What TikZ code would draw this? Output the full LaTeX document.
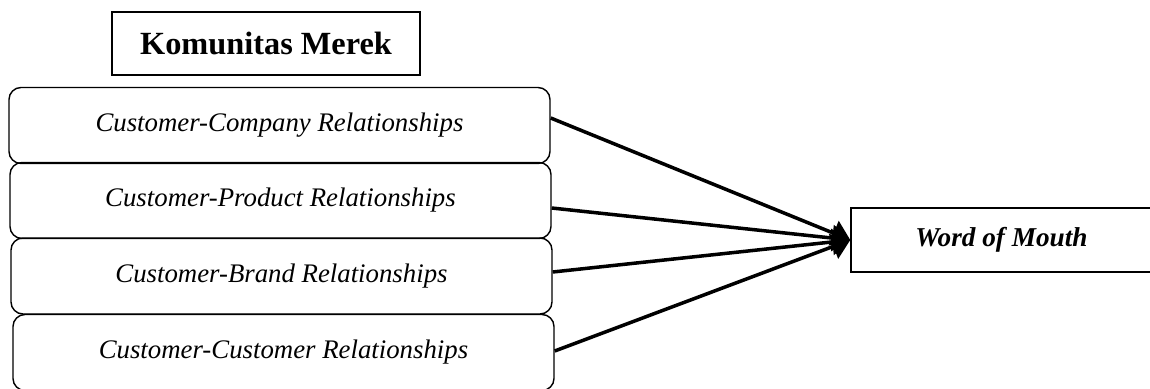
\documentclass[tikz,border=0pt]{standalone}
\usepackage{fontspec}
\setmainfont{Liberation Serif}
\usetikzlibrary{arrows.meta}

\tikzset{
    titlebox/.style={draw, line width=0.6pt, minimum width=6.16cm, minimum height=1.26cm,
        inner sep=0pt, font=\fontsize{18.4}{22}\selectfont\bfseries},
    relbox/.style={draw, line width=0.8pt, rounded corners=0.24cm, minimum width=10.82cm,
        minimum height=1.52cm, inner sep=0pt, font=\fontsize{15.25}{18}\selectfont\itshape},
    wombox/.style={draw, line width=0.8pt, minimum width=6.02cm, minimum height=1.28cm,
        inner sep=0pt, font=\fontsize{15.5}{18}\selectfont\bfseries\itshape},
    link/.style={line width=2pt, -{Triangle[length=0.36cm, width=0.52cm]}}
}

\begin{document}
\begin{tikzpicture}
    \useasboundingbox (0,0) rectangle (23,7.76);

    \node [titlebox] (title) at (5.32,6.89) {Komunitas Merek};

    % the four relationship boxes, stacked
    \node [relbox] (company) at (5.59,5.25) {Customer-Company Relationships};
    \node [relbox] (product) at (5.61,3.75) {Customer-Product Relationships};
    \node [relbox] (brand) at (5.63,2.24) {Customer-Brand Relationships};
    \node [relbox] (customer) at (5.67,0.71) {Customer-Customer Relationships};

    \node [wombox] (wom) at (20.03,2.96) {Word of Mouth};

    % arrows into Word of Mouth
    \draw [link] ([yshift=0.15cm]company.east) -- (wom.west);
    \draw [link] ([yshift=-0.15cm]product.east) -- (wom.west);
    \draw [link] ([yshift=0.08cm]brand.east) -- (wom.west);
    \draw [link] ([yshift=0.03cm]customer.east) -- (wom.west);
\end{tikzpicture}
\end{document}
